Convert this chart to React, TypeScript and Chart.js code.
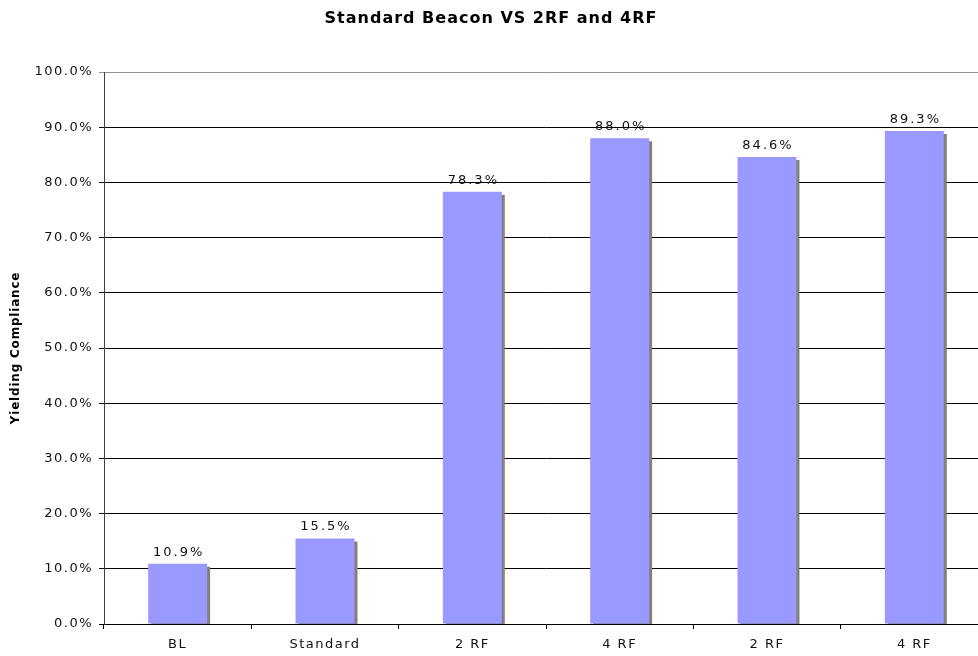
import React, { useEffect, useRef } from "react";
import { Chart, registerables } from "chart.js";

Chart.register(...registerables);

const categories = ["BL", "Standard", "2 RF", "4 RF", "2 RF", "4 RF"];
const compliance = [10.9, 15.5, 78.3, 88.0, 84.6, 89.3];
const yTicks = [0, 10, 20, 30, 40, 50, 60, 70, 80, 90, 100];
const chartTitle = "Standard Beacon VS 2RF and 4RF";
const yAxisTitle = "Yielding Compliance";

const FONT = "'DejaVu Sans', Verdana, sans-serif";

const spacingPlugin = {
  id: "letterSpacing",
  beforeDraw(chart: any) {
    chart.ctx.save();
    (chart.ctx as any).letterSpacing = "1.5px";
  },
  afterDraw(chart: any) {
    chart.ctx.restore();
  },
};

const shadowPlugin = {
  id: "barShadow",
  beforeDatasetDraw(chart: any) {
    const ctx = chart.ctx;
    ctx.save();
    ctx.shadowColor = "#808080";
    ctx.shadowOffsetX = 3;
    ctx.shadowOffsetY = 3;
    ctx.shadowBlur = 0;
  },
  afterDatasetDraw(chart: any) {
    chart.ctx.restore();
  },
};

const labelPlugin = {
  id: "barLabels",
  afterDatasetsDraw(chart: any) {
    const ctx = chart.ctx;
    const meta = chart.getDatasetMeta(0);
    ctx.save();
    ctx.font = `13px ${FONT}`;
    (ctx as any).letterSpacing = "2px";
    ctx.fillStyle = "#111";
    ctx.textAlign = "center";
    ctx.textBaseline = "alphabetic";
    meta.data.forEach((bar: any, i: number) => {
      ctx.fillText(`${compliance[i].toFixed(1)}%`, bar.x + 1, bar.y - 8);
    });
    ctx.restore();
  },
};

const titlePlugin = {
  id: "customTitle",
  afterDraw(chart: any) {
    const ctx = chart.ctx;
    ctx.save();
    ctx.font = `bold 16px ${FONT}`;
    (ctx as any).letterSpacing = "1px";
    ctx.fillStyle = "#000";
    ctx.textAlign = "center";
    ctx.textBaseline = "middle";
    ctx.fillText(chartTitle, 491, 19);
    // y-axis title
    const area = chart.chartArea;
    ctx.translate(16, (area.top + area.bottom) / 2);
    ctx.rotate(-Math.PI / 2);
    ctx.font = `bold 12px ${FONT}`;
    (ctx as any).letterSpacing = "0.8px";
    ctx.fillText(yAxisTitle, 0, 0);
    ctx.restore();
  },
};

export default function App() {
  const ref = useRef<HTMLCanvasElement>(null);
  useEffect(() => {
    document.body.style.margin = "0";
    const chart = new Chart(ref.current!, {
      type: "bar",
      data: {
        labels: categories,
        datasets: [
          {
            data: compliance,
            backgroundColor: "#9999FF",
            borderWidth: 0,
            barPercentage: 0.4,
            categoryPercentage: 1,
            clip: 0,
          } as any,
        ],
      },
      options: {
        responsive: false,
        animation: false,
        devicePixelRatio: 1,
        layout: { padding: { top: 72, right: 8, left: 0, bottom: 0 } },
        plugins: {
          legend: { display: false },
          tooltip: { enabled: false },
          title: { display: false },
        },
        scales: {
          x: {
            offset: true,
            grid: {
              offset: true,
              drawOnChartArea: false,
              drawTicks: true,
              tickLength: 5,
              color: "#000",
            },
            border: { color: "#000", width: 1 },
            ticks: {
              color: "#111",
              font: { family: FONT, size: 13 },
              padding: 8,
              maxRotation: 0,
            },
            afterFit(scale: any) {
              scale.height = 32;
            },
          },
          y: {
            min: 0,
            max: 100,
            afterBuildTicks(scale: any) {
              scale.ticks = yTicks.map((v) => ({ value: v }));
            },
            grid: {
              color: (c: any) => (c.tick && c.tick.value === 100 ? "#909090" : "#000"),
              tickLength: 5,
              drawTicks: true,
            },
            border: { color: "#404040", width: 1 },
            ticks: {
              color: "#111",
              font: { family: FONT, size: 13 },
              padding: 6,
              callback: (v: any) => `${Number(v).toFixed(1)}%`,
            },
            title: { display: false },
            afterFit(scale: any) {
              scale.width = 104;
            },
          },
        },
      },
      plugins: [spacingPlugin, shadowPlugin, labelPlugin, titlePlugin],
    });
    return () => chart.destroy();
  }, []);
  return (
    <div style={{ width: 978, height: 656, overflow: "hidden" }}>
      <canvas ref={ref} width={996} height={656} style={{ display: "block" }} />
    </div>
  );
}
